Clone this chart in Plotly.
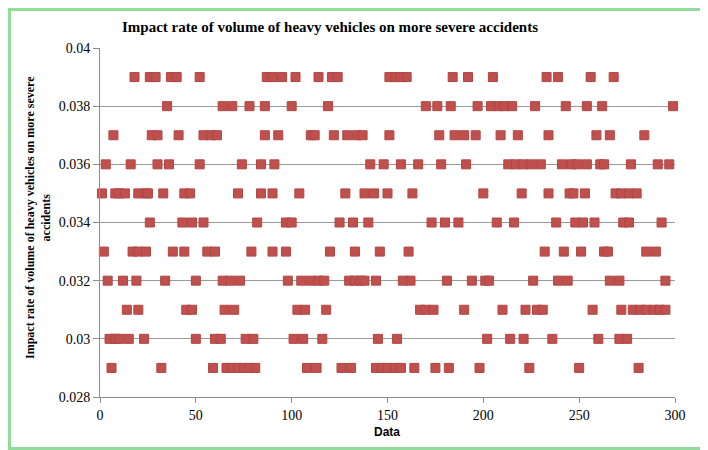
import plotly.graph_objects as go

# x positions (data index) of points at each impact-rate level
x_0390 = [18, 26, 29, 37, 40, 52, 87, 90, 95, 102, 114, 121, 124, 151, 154, 157, 160, 184, 192, 205, 233, 239, 256, 268]
x_0380 = [35, 64, 69, 78, 86, 100, 119, 170, 176, 183, 197, 204, 208, 211, 215, 227, 243, 254, 262, 299]
x_0370 = [7, 27, 30, 41, 54, 58, 61, 86, 93, 110, 112, 122, 129, 134, 137, 151, 177, 185, 190, 196, 209, 218, 234, 259, 266, 284]
x_0360 = [3, 16, 30, 36, 52, 74, 84, 91, 141, 148, 157, 166, 178, 191, 213, 217, 221, 225, 230, 241, 246, 249, 254, 261, 263, 277, 291, 297]
x_0350 = [1, 8, 10, 13, 20, 24, 25, 33, 44, 47, 72, 84, 90, 104, 128, 138, 143, 150, 163, 200, 220, 234, 245, 247, 253, 269, 272, 276, 280]
x_0340 = [26, 43, 48, 54, 82, 97, 100, 125, 132, 140, 173, 180, 187, 207, 216, 238, 248, 252, 258, 273, 276, 293]
x_0330 = [2, 17, 20, 24, 38, 44, 56, 60, 79, 90, 97, 120, 133, 146, 161, 232, 242, 251, 263, 265, 285, 290]
x_0320 = [4, 12, 19, 34, 50, 64, 68, 73, 98, 105, 110, 114, 117, 130, 133, 136, 138, 144, 158, 162, 181, 194, 201, 203, 226, 239, 244, 266, 271, 295]
x_0310 = [14, 20, 45, 48, 65, 70, 103, 107, 118, 167, 170, 174, 190, 210, 222, 228, 231, 257, 272, 278, 282, 285, 289, 292, 295]
x_0300 = [5, 8, 10, 15, 23, 50, 60, 63, 76, 80, 101, 106, 116, 145, 155, 202, 214, 221, 236, 260, 271, 275]
x_0290 = [6, 32, 59, 66, 69, 72, 75, 78, 81, 108, 113, 126, 131, 144, 147, 150, 154, 157, 164, 175, 182, 198, 224, 250, 281]

levels = [0.039, 0.038, 0.037, 0.036, 0.035, 0.034, 0.033, 0.032, 0.031, 0.030, 0.029]
groups = [x_0390, x_0380, x_0370, x_0360, x_0350, x_0340, x_0330, x_0320, x_0310, x_0300, x_0290]

xs, ys = [], []
for lv, g in zip(levels, groups):
    for v in g:
        xs.append(v)
        ys.append(lv)

title_text = "Impact rate of volume of heavy vehicles on more severe accidents"
ytitle_text = "Impact rate of volume of heavy vehicles on more severe<br>accidents"
xtitle_text = "Data"
x_ticks = [0, 50, 100, 150, 200, 250, 300]
y_ticks = [0.028, 0.03, 0.032, 0.034, 0.036, 0.038, 0.04]
y_ticklabels = ["0.028", "0.03", "0.032", "0.034", "0.036", "0.038", "0.04"]

fig = go.Figure()
fig.add_trace(go.Scatter(
    x=xs, y=ys, mode="markers", cliponaxis=False,
    marker=dict(symbol="square", size=9, color="#C0504D",
                line=dict(color="#B04643", width=1)),
    showlegend=False,
))

OFF = 8  # page body margin
W, H = 708, 450
L, T = 100 - OFF, 48 - OFF
pw, ph = 575, 349
R, B = W - L - pw, H - T - ph

def px2x(px):
    return (px - OFF - L) / pw

def py2y(py):
    return (T + ph - (py - OFF)) / ph

fig.update_layout(
    width=W, height=H,
    margin=dict(l=L, r=R, t=T, b=B),
    paper_bgcolor="white", plot_bgcolor="white",
    font=dict(family="Liberation Serif", color="black"),
    xaxis=dict(range=[0, 300], tickvals=x_ticks, showgrid=False, zeroline=False,
               showline=True, linecolor="#8c8c8c", linewidth=1,
               ticks="outside", ticklen=5, tickcolor="#8c8c8c",
               tickfont=dict(family="Liberation Serif", size=14, color="black")),
    yaxis=dict(range=[0.028, 0.04], tickvals=y_ticks, ticktext=y_ticklabels,
               showgrid=True, gridcolor="#9a9a9a", gridwidth=1, zeroline=False,
               showline=True, linecolor="#8c8c8c", linewidth=1,
               ticks="outside", ticklen=6, tickcolor="#8c8c8c",
               tickfont=dict(family="Liberation Serif", size=14, color="black")),
    shapes=[dict(type="rect", xref="paper", yref="paper",
                 x0=px2x(9.5), x1=px2x(720), y0=py2y(448.5), y1=py2y(9.5),
                 line=dict(color="#93DB9A", width=3), fillcolor="rgba(0,0,0,0)",
                 layer="below")],
    annotations=[
        dict(text="<b>" + title_text + "</b>", xref="paper", yref="paper",
             x=px2x(330), y=py2y(27), xanchor="center", yanchor="middle",
             showarrow=False, font=dict(family="Liberation Serif", size=15, color="black")),
        dict(text="<b>" + ytitle_text + "</b>", xref="paper", yref="paper",
             x=px2x(38), y=py2y(218), xanchor="center", yanchor="middle",
             textangle=-90, showarrow=False,
             font=dict(family="Liberation Serif", size=12, color="black")),
        dict(text="<b>" + xtitle_text + "</b>", xref="paper", yref="paper",
             x=px2x(387), y=py2y(432), xanchor="center", yanchor="middle",
             showarrow=False, font=dict(family="Liberation Sans", size=12, color="black")),
    ],
)

fig.write_html("out.html")
